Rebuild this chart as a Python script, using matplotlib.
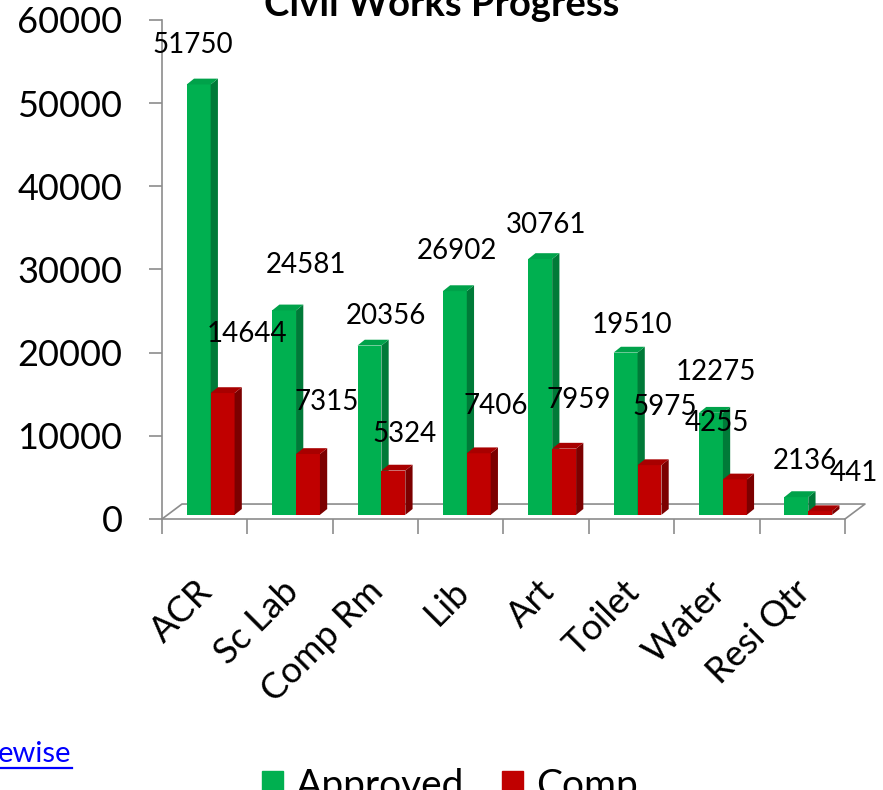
import matplotlib
matplotlib.use('Agg')
import matplotlib.pyplot as plt
from matplotlib.patches import Polygon, Rectangle
from matplotlib.lines import Line2D
from matplotlib.transforms import blended_transform_factory

plt.rcParams['font.family'] = ['Lato', 'DejaVu Sans']

# data
categories = ['ACR', 'Sc Lab', 'Comp Rm', 'Lib', 'Art', 'Toilet', 'Water', 'Resi Qtr']
approved = [51750, 24581, 20356, 26902, 30761, 19510, 12275, 2136]
comp = [14644, 7315, 5324, 7406, 7959, 5975, 4255, 441]
yticks = [0, 10000, 20000, 30000, 40000, 50000, 60000]

# label nudges in pixels (excel moved them around to avoid overlap)
app_off = [(-6, 44), (22, 50), (16, 34), (2, 44), (6, 38), (6, 32), (5, 45), (9, 40)]
comp_off = [(24, 63), (19, 56), (11, 41), (17, 51), (15, 53), (15, 62), (-18, 61), (34, 42)]

green, green_side, green_top = '#00B050', '#007A38', '#00A24A'
red, red_side, red_top = '#C00000', '#7C0000', '#A80000'
gray = '#8C8C8C'

W, H = 883, 790
fig = plt.figure(figsize=(W / 100, H / 100), dpi=100)
ax = fig.add_axes([162 / W, 271 / H, 683 / W, 499 / H])

n = len(categories)
bw = 0.28
base = 500      # 3d shift of the bar bottoms
dx, dy = 0.085, 700   # bar depth in data units
fdx, fdy = 0.234, 1800  # floor depth

xg = [i + 0.29 for i in range(n)]
xr = [i + 0.57 for i in range(n)]
bars_g = ax.bar(xg, approved, width=bw, bottom=base, align='edge', color=green, linewidth=0, zorder=3)
bars_r = ax.bar(xr, comp, width=bw, bottom=base, align='edge', color=red, linewidth=0, zorder=4)


def add_depth(bars, side_c, top_c, z):
    for r in bars:
        x0, y0, w, h = r.get_x(), r.get_y(), r.get_width(), r.get_height()
        top = y0 + h
        side = [(x0 + w, y0), (x0 + w + dx, y0 + dy), (x0 + w + dx, top + dy), (x0 + w, top)]
        lid = [(x0, top), (x0 + w, top), (x0 + w + dx, top + dy), (x0 + dx, top + dy)]
        ax.add_patch(Polygon(side, closed=True, color=side_c, lw=0, zorder=z, clip_on=False))
        ax.add_patch(Polygon(lid, closed=True, color=top_c, lw=0, zorder=z, clip_on=False))


add_depth(bars_g, green_side, green_top, 3)
add_depth(bars_r, red_side, red_top, 4)

# floor
ax.plot([0, fdx, n + fdx, n], [0, fdy, fdy, 0], color=gray, lw=1.2, clip_on=False, zorder=2)

# data labels
for i in range(n):
    ax.annotate(str(approved[i]), (xg[i] + bw / 2, approved[i]), xytext=app_off[i],
                textcoords='offset pixels', ha='center', va='center', fontsize=20, zorder=6,
                annotation_clip=False)
    ax.annotate(str(comp[i]), (xr[i] + bw / 2, comp[i]), xytext=comp_off[i],
                textcoords='offset pixels', ha='center', va='center', fontsize=20, zorder=6,
                annotation_clip=False)

ax.set_xlim(0, n)
ax.set_ylim(0, 60000)
for s in ['top', 'right']:
    ax.spines[s].set_visible(False)
for s in ['left', 'bottom']:
    ax.spines[s].set_color(gray)
    ax.spines[s].set_linewidth(1.2)

ax.set_yticks(yticks)
ax.set_yticklabels([str(t) for t in yticks])
ax.tick_params(axis='y', length=9.5, width=1.2, color=gray, pad=19, labelsize=26)
ax.set_xticks(range(n + 1))
ax.set_xticklabels([])
ax.tick_params(axis='x', length=11, width=1.2, color=gray)

trans = blended_transform_factory(ax.transData, ax.transAxes)
for i, c in enumerate(categories):
    ax.text(i + 0.53, -0.135, c, transform=trans, rotation=45, ha='right', va='center',
            rotation_mode='anchor', fontsize=26)

fig.text(0.5, 1 - 16 / H, 'Civil Works Progress', ha='center', va='baseline',
         fontsize=27.5, fontweight='bold')

# cut-off hyperlink at bottom left
fig.text(-2 / W, 1 - 762 / H, 'ewise', color='#0000FF', fontsize=21, va='baseline')
fig.add_artist(Line2D([0, 72 / W], [1 - 768 / H, 1 - 768 / H], color='#0000FF', lw=1.6,
                      transform=fig.transFigure))

# legend (runs off the bottom edge like the original)
fig.add_artist(Rectangle((262 / W, 1 - 792 / H), 21 / W, 21 / H, color=green, transform=fig.transFigure))
fig.text(296 / W, 1 - 797 / H, 'Approved', fontsize=28, va='baseline')
fig.add_artist(Rectangle((502 / W, 1 - 792 / H), 21 / W, 21 / H, color=red, transform=fig.transFigure))
fig.text(536 / W, 1 - 797 / H, 'Comp', fontsize=28, va='baseline')

fig.savefig('out.png', dpi=100)
